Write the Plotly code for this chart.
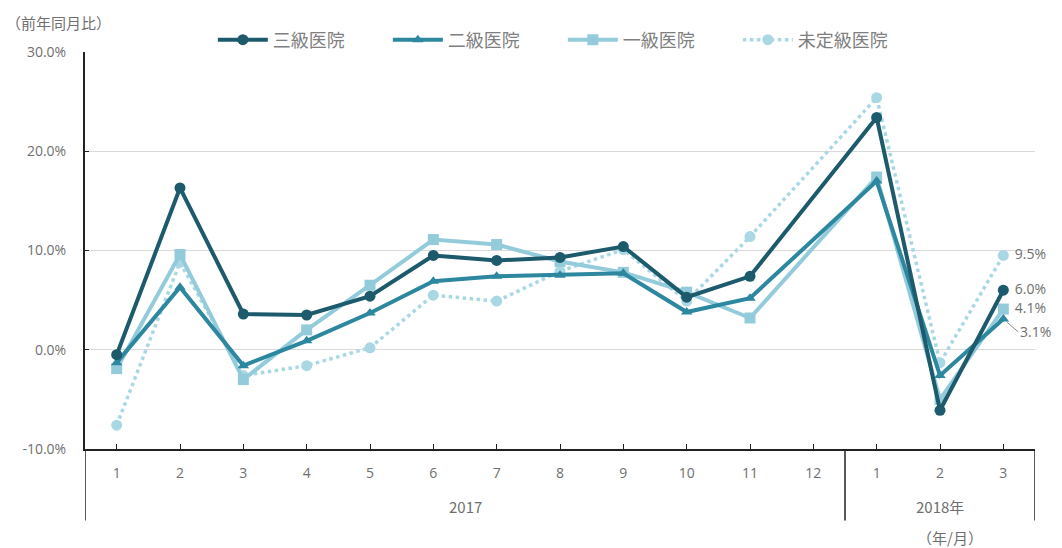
import plotly.graph_objects as go

months = ["1", "2", "3", "4", "5", "6", "7", "8", "9", "10", "11", "12", "1", "2", "3"]
year_labels = ["2017", "2018年"]
year_spans = [(0, 11), (12, 14)]

series_names = ["三級医院", "二級医院", "一級医院", "未定級医院"]
tertiary = [-0.5, 16.3, 3.6, 3.5, 5.4, 9.5, 9.0, 9.3, 10.4, 5.3, 7.4, None, 23.4, -6.1, 6.0]
secondary = [-1.3, 6.3, -1.6, 0.9, 3.7, 6.9, 7.4, 7.5, 7.7, 3.8, 5.2, None, 17.0, -2.6, 3.1]
primary = [-1.9, 9.6, -3.0, 2.0, 6.5, 11.1, 10.6, 8.9, 7.8, 5.8, 3.2, None, 17.4, -5.0, 4.1]
unrated = [-7.6, 8.8, -2.6, -1.6, 0.2, 5.5, 4.9, 7.9, 10.1, 4.9, 11.4, None, 25.4, -1.3, 9.5]

yticks = [-10, 0, 10, 20, 30]
yticklabels = ["-10.0%", "0.0%", "10.0%", "20.0%", "30.0%"]

colors = ["#1c5a6c", "#2c879f", "#93cbdb", "#a9d8e4"]
symbols = ["circle", "triangle-up", "square", "circle"]
dashes = ["solid", "solid", "solid", "dot"]
data = [tertiary, secondary, primary, unrated]
end_label = [True, False, True, True]

xpos = list(range(len(months)))
num_font = "Open Sans, Noto Sans CJK JP, sans-serif"
txt_color = "#6f6f6f"

fig = go.Figure()
for i in [3, 2, 1, 0]:
    vals = data[i]
    texts = [""] * len(vals)
    if end_label[i]:
        texts[-1] = f" {vals[-1]:.1f}%"
    fig.add_trace(go.Scatter(
        x=xpos, y=vals, name=series_names[i],
        mode="lines+markers+text",
        text=texts, textposition="middle right",
        textfont=dict(color=txt_color, size=14, family=num_font),
        cliponaxis=False,
        connectgaps=True,
        line=dict(color=colors[i], width=4 if i < 3 else 3.5, dash=dashes[i]),
        marker=dict(color=colors[i], symbol=symbols[i], size=11 if i != 1 else 10),
        legendrank=i,
    ))

shapes = []
bounds = [year_spans[0][0] - 0.5, year_spans[0][1] + 0.5, year_spans[1][1] + 0.5]
for b in bounds:
    shapes.append(dict(type="line", xref="x", yref="paper", x0=b, x1=b, y0=0, y1=-0.18,
                       line=dict(color="#222222", width=1.5)))

annotations = [
    dict(text="（前年同月比）", xref="paper", yref="paper", x=-0.085, y=1.075,
         xanchor="left", yanchor="middle", showarrow=False,
         font=dict(size=15, color=txt_color)),
    dict(text="（年/月）", xref="paper", yref="paper", x=0.91, y=-0.222,
         xanchor="center", yanchor="middle", showarrow=False,
         font=dict(size=15, color=txt_color)),
    dict(text=f"{secondary[-1]:.1f}%", xref="x", yref="y", x=xpos[-1], y=secondary[-1],
         xanchor="left", yanchor="middle", showarrow=True, arrowhead=0, arrowwidth=1,
         arrowcolor="#8c8c8c", ax=15, ay=13, standoff=5,
         font=dict(size=14, color=txt_color, family=num_font)),
]
for lab, (a, b) in zip(year_labels, year_spans):
    annotations.append(dict(text=lab, xref="x", yref="paper", x=(a + b) / 2, y=-0.146,
                            xanchor="center", yanchor="middle", showarrow=False,
                            font=dict(size=15, color=txt_color)))

fig.update_layout(
    width=1062, height=548,
    margin=dict(l=85, r=27, t=52, b=99, autoexpand=False),
    paper_bgcolor="white", plot_bgcolor="white",
    font=dict(family="Noto Sans CJK JP, Noto Sans, sans-serif", color=txt_color, size=13),
    showlegend=True,
    legend=dict(orientation="h", x=0.503, xanchor="center", yref="container", y=0.927, yanchor="middle",
                font=dict(size=18, color="#7f7f7f"), traceorder="normal",
                itemwidth=50, entrywidth=110, bgcolor="rgba(0,0,0,0)"),
    xaxis=dict(
        range=[-0.5, 14.5], tickvals=xpos, ticktext=months,
        showline=True, linecolor="#222222", linewidth=2,
        ticks="inside", ticklen=5, tickcolor="#222222",
        ticklabelstandoff=10, automargin=False,
        showgrid=False, zeroline=False, tickfont=dict(size=14, color=txt_color, family=num_font),
    ),
    yaxis=dict(
        range=[-10, 30], tickvals=yticks, ticktext=yticklabels,
        showline=True, linecolor="#222222", linewidth=2,
        showgrid=True, gridcolor="#d9d9d9", gridwidth=1,
        zeroline=False, ticks="inside", ticklen=4, tickcolor="#222222",
        ticklabelstandoff=14, automargin=False,
        tickfont=dict(size=14, color=txt_color, family=num_font),
    ),
    shapes=shapes,
    annotations=annotations,
)

fig.write_html("out.html", config={"displayModeBar": False},
               post_script="document.body.style.margin='0';document.body.style.padding='0';")
